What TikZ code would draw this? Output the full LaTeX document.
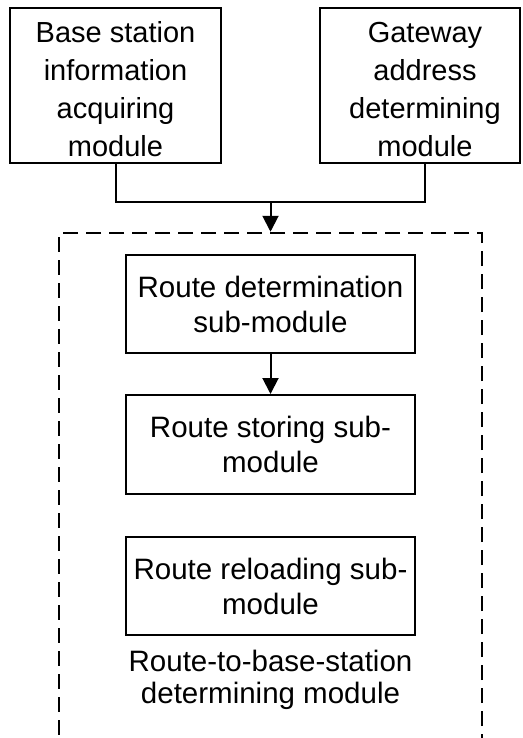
\documentclass[tikz,border=0pt]{standalone}
\usepackage{fontspec}
\setmainfont{Liberation Sans}
\usetikzlibrary{arrows.meta}

\tikzset{
  modbox/.style={draw, line width=2pt, align=center, inner sep=0pt},
  topfont/.style={font=\fontsize{29}{38}\selectfont},
  subfont/.style={font=\fontsize{29.5}{35}\selectfont},
  flow/.style={line width=2pt, -{Triangle[width=16pt,length=16pt]}},
  framebox/.style={draw, line width=2.5pt, dash pattern=on 15pt off 8pt}
}

\begin{document}
\begin{tikzpicture}[x=1pt,y=-1pt]
\useasboundingbox (0,0) rectangle (522,738);
\clip (0,0) rectangle (522,738);
% upper modules
\node[modbox, topfont, minimum width=211pt, minimum height=155pt] (bsi) at (115.5,85.5) {\rule{0pt}{29pt}Base station\\information\\acquiring\\module};
\node[modbox, topfont, minimum width=200pt, minimum height=155pt] (gad) at (420,85.5) {\rule{0pt}{29pt}\hspace*{10pt}Gateway\\\hspace*{10pt}address\\\hspace*{10pt}determining\\\hspace*{10pt}module};
% dashed container, runs off the bottom
\node[framebox, minimum width=423pt, minimum height=530pt] (frame) at (270.5,498) {};
% sub-modules
\node[modbox, subfont, minimum width=289pt, minimum height=98pt] (rdet) at (270.5,304) {Route determination\\sub-module};
\node[modbox, subfont, minimum width=289pt, minimum height=99pt] (rsto) at (270.5,444.5) {Route storing sub-\\module};
\node[modbox, subfont, minimum width=289pt, minimum height=98pt] (rrel) at (270.5,586) {Route reloading sub-\\module};
\node[font=\fontsize{29.5}{32}\selectfont, align=center, inner sep=0pt] (rtb) at (270.5,680) {Route-to-base-station\\determining module};
% connectors
\coordinate (join) at (270.5,202);
\draw[line width=2pt] (bsi.south) |- (join) -| ([xshift=5pt]gad.south);
\draw[flow] (join) -- (frame.north);
\draw[flow] (rdet) -- (rsto);
\end{tikzpicture}
\end{document}
